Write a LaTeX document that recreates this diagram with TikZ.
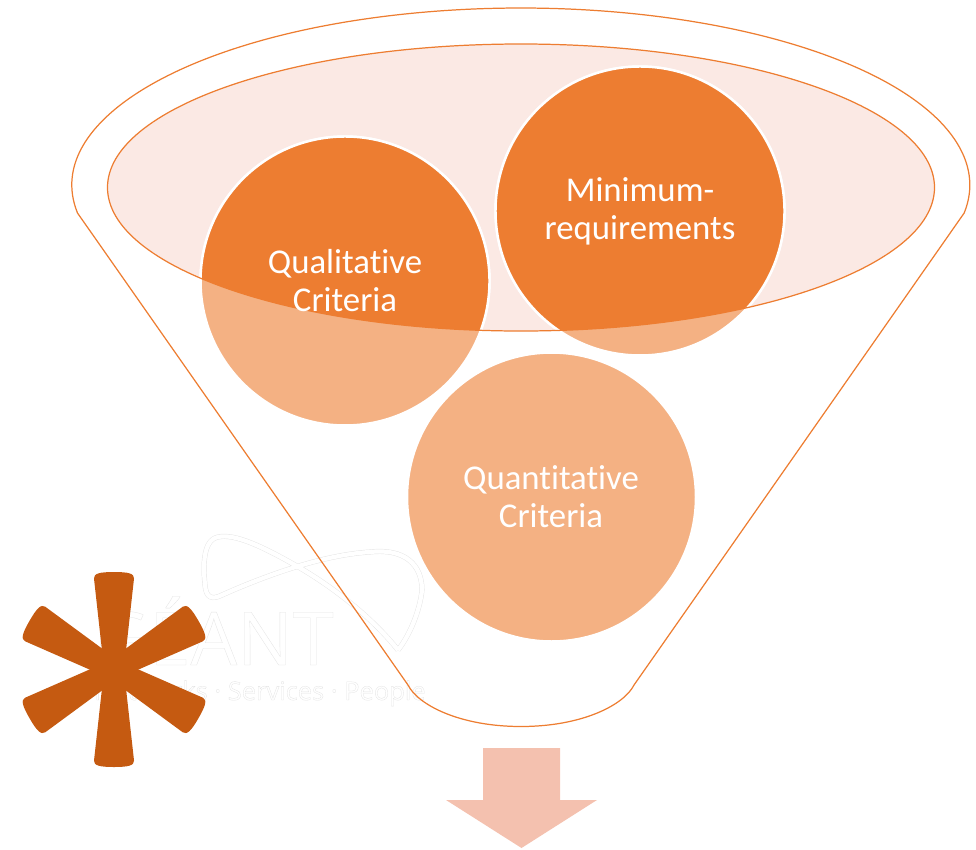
\documentclass[tikz,border=0pt]{standalone}
\usepackage{fontspec}
\setmainfont[Ligatures=NoCommon]{Carlito}
\newfontfamily\logofont{Open Sans}
\usetikzlibrary{positioning}

\definecolor{funnelline}{HTML}{ED7D31}
\definecolor{bubbledark}{HTML}{ED7D31}
\definecolor{bubblelight}{HTML}{F4B183}
\definecolor{topfill}{HTML}{FBE9E4}
\definecolor{arrowfill}{HTML}{F4C1AF}
\definecolor{starfill}{HTML}{C55A11}
\definecolor{logoline}{HTML}{E4E4E4}

% white text with a thin outline
\newcommand{\logotext}[1]{\special{pdf:code q 2 Tr 0.18 w 0.89 0.89 0.89 RG 1 1 1 rg}#1\special{pdf:code Q}}

\tikzset{
    bubble/.style={circle, draw=white, line width=1.4pt, fill=bubblelight, minimum size=5.78cm, inner sep=0pt},
    bubblelabel/.style={text=white, font=\fontsize{19.8}{21.6}\selectfont, align=center, inner sep=0pt},
    funnel/.style={draw=funnelline, line width=0.7pt},
}

\begin{document}
\begin{tikzpicture}[
        x=0.02cm, y=-0.02cm,
        declare function={
            MidX=521;
            InnerY=187.5;
        }
    ]
        \useasboundingbox (0, 0) rectangle (976, 849);

        % logo behind everything
        \draw[logoline, line width=0.25pt, double=white, double distance=2.4pt, line join=round]
            (398, 650) .. controls (370, 615) and (330, 585) .. (295, 565)
            .. controls (265, 548) and (235, 533) .. (218, 537)
            .. controls (203, 540) and (203, 565) .. (205, 585)
            .. controls (206, 598) and (212, 600) .. (222, 595)
            .. controls (260, 578) and (320, 555) .. (370, 552)
            .. controls (405, 548) and (422, 565) .. (422, 590)
            .. controls (420, 610) and (410, 635) .. (398, 650);
        \node[anchor=base east, inner sep=0pt, font=\logofont\fontsize{42}{42}\selectfont] (logoname) at (334, 665) {\logotext{GÉANT}};
        \node[anchor=base east, inner sep=0pt, font=\logofont\fontsize{14.5}{14.5}\selectfont] (logotag) at (426, 700) {\logotext{Networks · Services · People}};

        % funnel
        \draw[funnel] (77.5, 213) arc[start angle=170.9, end angle=369.1, x radius=449, y radius=177]
            -- (634, 685)
            .. controls (624, 705) and (582, 726.5) .. (MidX, 726.5)
            .. controls (460, 726.5) and (418, 705) .. (408, 685) -- cycle;

        \fill[topfill] (MidX, InnerY) ellipse [x radius=413.5, y radius=143.5];

        \node[bubble] (qualitative) at (345, 281) {};
        \node[bubble] (minimum) at (640, 211) {};
        \node[bubble] (quantitative) at (551.5, 497) {};

        % part of the circles inside the ellipse
        \begin{scope}
            \clip (MidX, InnerY) ellipse [x radius=413.5, y radius=143.5];
            \fill[bubbledark] (qualitative.center) circle [radius=144.5];
            \fill[bubbledark] (minimum.center) circle [radius=144.5];
            \draw[white, line width=1.4pt] (qualitative.center) circle [radius=144.5];
            \draw[white, line width=1.4pt] (minimum.center) circle [radius=144.5];
        \end{scope}
        \draw[funnel] (MidX, InnerY) ellipse [x radius=413.5, y radius=143.5];

        \node[bubblelabel] (qualitativetext) at (345, 281) {Qualitative\\Criteria};
        \node[bubblelabel] (minimumtext) at (640, 211.5) {Minimum-\\requirements};
        \node[bubblelabel] (quantitativetext) at (551, 497) {Quantitative\\Criteria};

        % arrow
        \fill[arrowfill] (483, 748) -- (560, 748) -- (560, 800) -- (597, 800) -- (521.5, 848)
            -- (446, 800) -- (483, 800) -- cycle;

        % asterisk
        \foreach \a in {30, 90, 150, 210, 270, 330} {
            \fill[starfill, rotate around={\a:(114, 669.5)}]
                (114, 669.5) -- (135.2, 657.25) -- (205, 649.5)
                .. controls (210, 649.2) and (211.5, 655) .. (211.5, 669.5)
                .. controls (211.5, 684) and (210, 689.8) .. (205, 689.5)
                -- (135.2, 681.75) -- cycle;
        }
        \fill[starfill] (114, 669.5) circle [radius=24.4];
\end{tikzpicture}
\end{document}
